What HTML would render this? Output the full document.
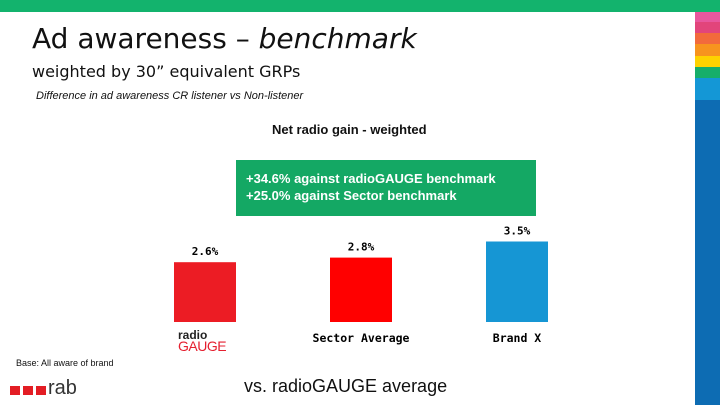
<!DOCTYPE html>
<html><head><meta charset="utf-8"><style>
body{margin:0;width:720px;height:405px;position:relative;overflow:hidden;background:#fff;font-family:"Liberation Sans",sans-serif}
.abs{position:absolute}
</style></head><body>
<div class="abs" style="left:0;top:0;width:720px;height:12px;background:#13b36d"></div>
<div class="abs" style="left:695px;top:12px;width:25px;height:393px">
<div style="height:10px;background:#e8579e"></div>
<div style="height:11px;background:#e2457b"></div>
<div style="height:11px;background:#f26a3c"></div>
<div style="height:12px;background:#f7941e"></div>
<div style="height:11px;background:#fed200"></div>
<div style="height:11px;background:#16ae6a"></div>
<div style="height:22px;background:#1497d6"></div>
<div style="height:305px;background:#0d6cb3"></div>
</div>
<div class="abs" style="left:32px;top:22px;font-family:'DejaVu Sans',sans-serif;font-size:28px;color:#111">Ad awareness – <i>benchmark</i></div>
<div class="abs" style="left:32px;top:62px;font-family:'DejaVu Sans',sans-serif;font-size:16px;color:#111">weighted by 30” equivalent GRPs</div>
<div class="abs" style="left:36px;top:90px;font-size:11px;font-style:italic;color:#111">Difference in ad awareness CR listener vs Non-listener</div>
<div class="abs" style="left:272px;top:122px;font-size:13px;font-weight:bold;color:#111">Net radio gain - weighted</div>
<div class="abs" style="left:236px;top:160px;width:300px;height:56px;background:#14a864;color:#fff;font-size:13px;font-weight:bold;line-height:17px;box-sizing:border-box;padding:10px 0 0 10px">+34.6% against radioGAUGE benchmark<br>+25.0% against Sector benchmark</div>
<svg id="chart" class="abs" style="left:0;top:0" width="720" height="405"></svg>
<div class="abs" style="left:178px;top:330px;line-height:11px">
<div style="font-weight:bold;font-size:12px;color:#222">radio</div>
<div style="font-size:14px;color:#e52030;letter-spacing:-0.5px">GAUGE</div></div>
<div class="abs" style="left:16px;top:358px;font-size:9px;color:#111">Base: All aware of brand</div>
<div class="abs" style="left:10px;top:380px;height:20px">
<span style="position:absolute;left:0;top:6px;width:10px;height:9px;background:#e31d24"></span>
<span style="position:absolute;left:13px;top:6px;width:10px;height:9px;background:#e31d24"></span>
<span style="position:absolute;left:26px;top:6px;width:10px;height:9px;background:#e31d24"></span>
<span style="position:absolute;left:38px;top:-3px;font-size:20px;color:#333">rab</span></div>
<div class="abs" style="left:244px;top:376px;font-size:18px;color:#111">vs. radioGAUGE average</div>
<script>
const categories=["radioGAUGE","Sector Average","Brand X"];
const values=[2.6,2.8,3.5];
const labels=["2.6%","2.8%","3.5%"];
const colors=["#ec1c24","#ff0000","#1696d4"];
const NS="http://www.w3.org/2000/svg",svg=document.getElementById("chart");
const base=322,scale=23;
function y(v){return base-v*scale;}
function x(i){return 174+i*156;}
values.forEach((v,i)=>{
const r=document.createElementNS(NS,"rect");


r.setAttribute("x",x(i));r.setAttribute("y",y(v));r.setAttribute("width",62);r.setAttribute("height",base-y(v));r.setAttribute("fill",colors[i]);
svg.appendChild(r);
const t=document.createElementNS(NS,"text");


t.setAttribute("x",x(i)+31);t.setAttribute("y",y(v)-7);t.setAttribute("text-anchor","middle");
t.setAttribute("font-family","DejaVu Sans Mono, monospace");t.setAttribute("font-size","11");t.setAttribute("font-weight","bold");
t.textContent=labels[i];svg.appendChild(t);
if(i>0){const c=document.createElementNS(NS,"text");


c.setAttribute("x",x(i)+31);c.setAttribute("y",342);c.setAttribute("text-anchor","middle");
c.setAttribute("font-family","DejaVu Sans Mono, monospace");c.setAttribute("font-size","11.5");c.setAttribute("font-weight","bold");
c.textContent=categories[i];svg.appendChild(c);}
});
</script>
</body></html>
